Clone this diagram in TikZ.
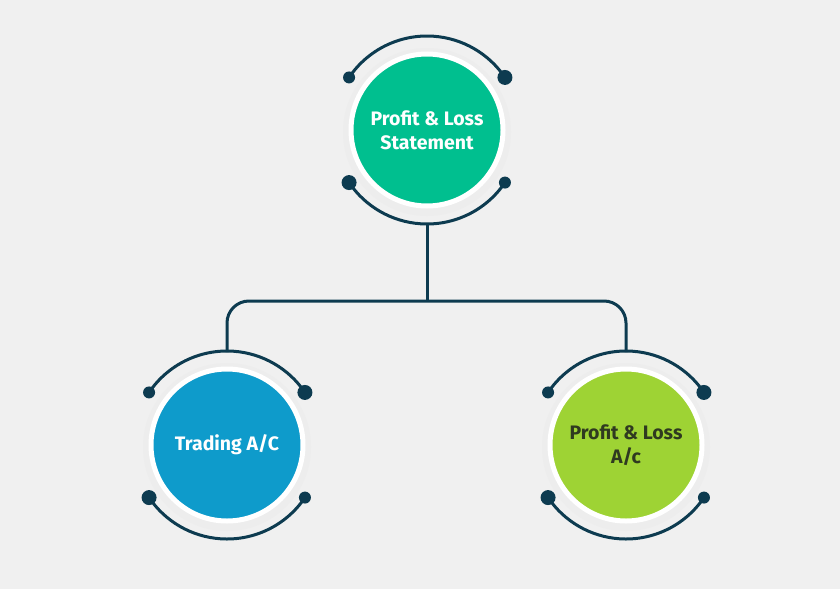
\documentclass[tikz,border=0pt]{standalone}
\usepackage{fontspec}
\setmainfont{Fira Sans}
\definecolor{bg}{HTML}{F0F0F0}
\definecolor{dk}{HTML}{0D3B50}
\definecolor{cgreen}{HTML}{00BF8F}
\definecolor{cblue}{HTML}{0E9BCB}
\definecolor{clime}{HTML}{9ED334}
\definecolor{ltxt}{HTML}{2F3A20}
\begin{document}
\begin{tikzpicture}[x=1pt,y=-1pt,
  ring/.style={line width=3pt,draw=dk},
  disc/.style={circle,minimum size=152pt,draw=white,line width=5pt,inner sep=0pt,align=center,font=\bfseries\fontsize{19.5}{24}\selectfont},
  conn/.style={line width=3pt,draw=dk,rounded corners=22pt}]
\fill[bg] (0,0) rectangle (840,589);
\useasboundingbox (0,0) rectangle (840,589);
\newcommand{\ringset}[2]{%
  \fill[black!7] (#1,#2+2) circle (84);
  \draw[ring] (#1,#2) ++(214:94) arc[start angle=214,end angle=326,radius=94];
  \draw[ring] (#1,#2) ++(34:94) arc[start angle=34,end angle=146,radius=94];
  \fill[dk] (#1,#2) ++(214:94) circle (6);
  \fill[dk] (#1,#2) ++(326:94) circle (7.5);
  \fill[dk] (#1,#2) ++(146:94) circle (7.5);
  \fill[dk] (#1,#2) ++(34:94) circle (6);
}
\ringset{427}{130}
\ringset{227}{445}
\ringset{626}{445}
\node[disc,fill=cgreen,text=white] (top) at (427,130) {Profit \& Loss\\Statement};
\node[disc,fill=cblue,text=white] (left) at (227,445) {Trading A/C};
\node[disc,fill=clime,text=ltxt] (right) at (626,445) {Profit \& Loss\\A/c};
\coordinate (lt) at (227,352);
\coordinate (rt) at (626,352);
\draw[conn] (427,224) -- (427,301);
\draw[conn] (lt) -- (227,301) -- (626,301) -- (rt);
\end{tikzpicture}
\end{document}
